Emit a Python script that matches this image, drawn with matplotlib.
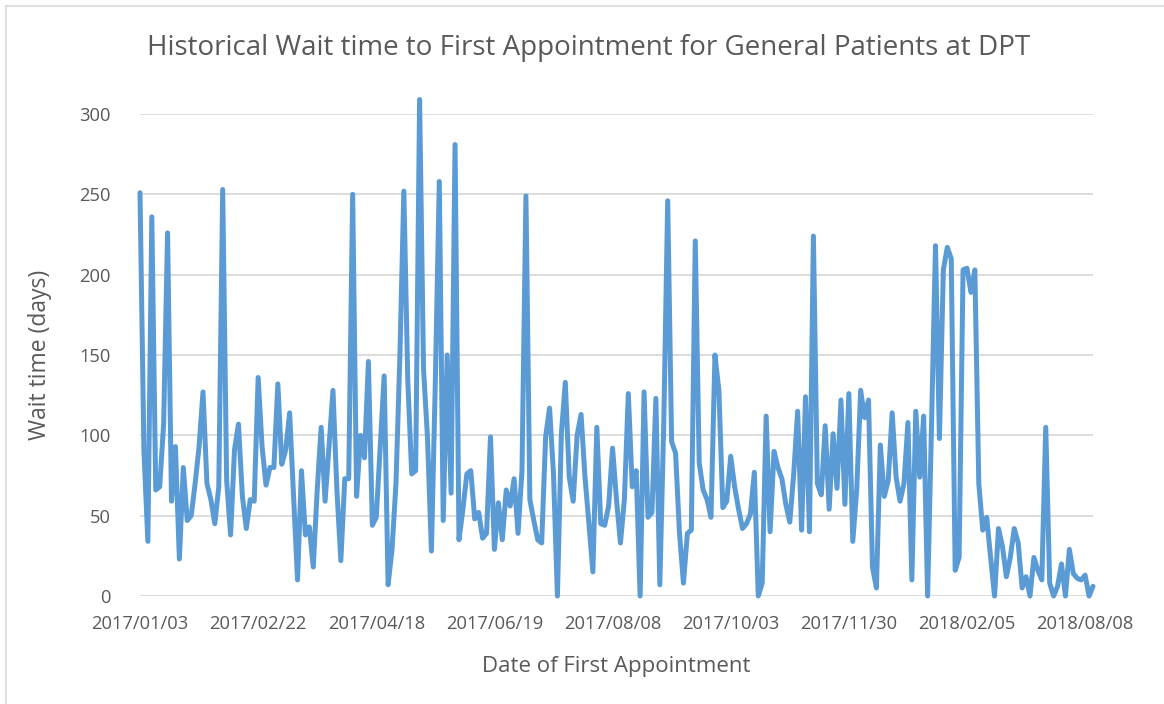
from matplotlib import pyplot as plt
from matplotlib.lines import Line2D
import numpy as np

# wait time (days) for each first appointment, in date order
wait_days = [
    251, 90, 34, 236, 66, 68, 107, 226, 59, 93, 23, 80, 47, 50, 70, 93, 127, 70, 60, 45,
    68, 253, 72, 38, 91, 107, 62, 42, 60, 59,
    136, 93, 69, 80, 80, 132, 82, 91, 114, 62, 10, 78, 38, 43, 18, 66, 105, 59, 93, 128,
    66, 22, 73, 73, 250, 62, 100, 86, 146, 44,
    49, 93, 137, 7, 29, 70, 150, 252, 134, 76, 78, 309, 141, 99, 28, 134, 258, 47, 150, 64,
    281, 35, 54, 76, 78, 48, 52, 36, 39, 99, 29,
    58, 35, 66, 56, 73, 39, 78, 249, 60, 47, 35, 33, 99, 117, 76, 0, 101, 133, 74, 59,
    100, 113, 74, 45, 15, 105, 45, 44, 56, 92,
    60, 33, 60, 126, 68, 78, 0, 127, 49, 52, 123, 7, 107, 246, 96, 89, 39, 8, 39, 41,
    221, 83, 66, 60, 49, 150, 128, 55, 59, 87,
    68, 54, 42, 45, 51, 77, 0, 8, 112, 40, 90, 80, 73, 57, 46, 76, 115, 41, 124, 40,
    224, 70, 63, 106, 54, 101, 67, 122, 57, 126, 34,
    66, 128, 111, 122, 18, 5, 94, 62, 72, 114, 74, 59, 70, 108, 10, 115, 74, 112, 0, 107,
    218, 98, 203, 217, 210, 16, 24, 203, 204, 189, 203,
    70, 41, 49, 24, 0, 42, 31, 12, 24, 42, 33, 5, 12, 0, 24, 16, 10, 105, 8, 0,
    6, 20, 0, 29, 14, 11, 10, 13, 0, 6,
]

date_labels = ["2017/01/03", "2017/02/22", "2017/04/18", "2017/06/19", "2017/08/08",
               "2017/10/03", "2017/11/30", "2018/02/05", "2018/08/08"]
label_every = 30

plt.rcParams['font.family'] = ['Open Sans', 'DejaVu Sans']
text_color = "#595959"

fig = plt.figure(figsize=(11.64, 7.04), dpi=100)
ax = fig.add_axes([140 / 1164, 1 - 596 / 704, (1093 - 140) / 1164, (596 - 114) / 704])

x = np.arange(len(wait_days))
ax.plot(x, wait_days, color="#5B9BD5", linewidth=3.6,
        solid_joinstyle="round", solid_capstyle="round", clip_on=False, zorder=3)

ax.set_xlim(0, len(wait_days) - 1)
ax.set_ylim(0, 300)
ax.set_yticks(range(0, 301, 50))
ax.set_xticks(np.arange(len(date_labels)) * label_every)
ax.set_xticklabels(date_labels)

ax.grid(axis="y", color="#d9d9d9", linewidth=1.3)
ax.set_axisbelow(True)
for s in ax.spines.values():
    s.set_visible(False)
ax.tick_params(length=0, labelsize=13.2, colors=text_color)
ax.tick_params(axis="x", pad=14)
ax.tick_params(axis="y", pad=21)

ax.set_xlabel("Date of First Appointment", fontsize=16, color=text_color, labelpad=16)
ax.set_ylabel("Wait time (days)", fontsize=16.5, color=text_color, labelpad=20)
fig.text(0.506, 0.932, "Historical Wait time to First Appointment for General Patients at DPT",
         ha="center", va="center", fontsize=20, color=text_color)

# chart area border (only top and left edges are visible)
fig.add_artist(Line2D([6 / 1164, 6 / 1164], [0, 1 - 6 / 704], color="#d9d9d9", linewidth=1.2))
fig.add_artist(Line2D([6 / 1164, 1], [1 - 6 / 704, 1 - 6 / 704], color="#d9d9d9", linewidth=1.2))

fig.savefig("out.png", dpi=100)
